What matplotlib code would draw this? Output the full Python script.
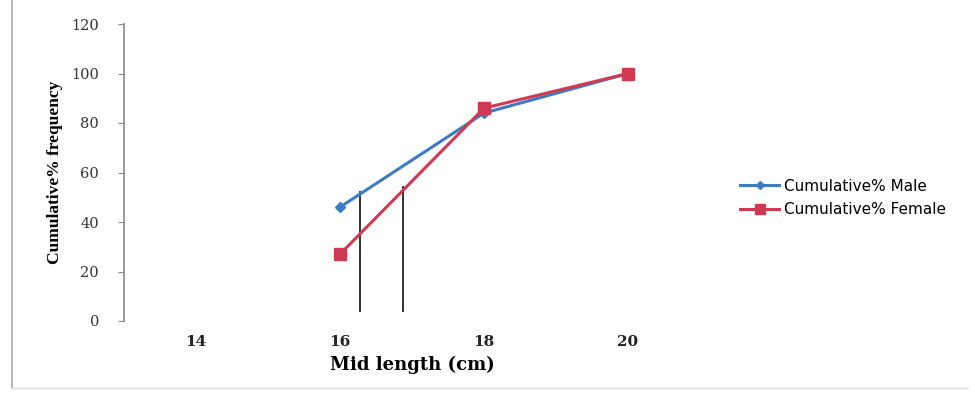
import matplotlib
matplotlib.use("Agg")
import matplotlib.pyplot as plt
from matplotlib.lines import Line2D

# Data
mid_length = [16, 18, 20]
cum_male = [46, 84, 100]
cum_female = [27, 86, 100]
x_ticks = [14, 16, 18, 20]
y_ticks = [0, 20, 40, 60, 80, 100, 120]
# reading lines (x position, top value)
ref_x = [16.28, 16.88]
ref_top = [52, 54]
ref_bottom = 4

blue = "#3D7CC2"
red = "#CF3A52"

fig = plt.figure(figsize=(9.75, 3.94), dpi=100)
ax = fig.add_axes([124/975, 1-321/394, (700-124)/975, (321-24)/394])

ax.plot(mid_length, cum_male, color=blue, lw=2.2, marker="D", ms=5,
        label="Cumulative% Male", zorder=3)
ax.plot(mid_length, cum_female, color=red, lw=2.2, marker="s", ms=8,
        label="Cumulative% Female", zorder=3)
for xv, top in zip(ref_x, ref_top):
    ax.plot([xv, xv], [ref_bottom, top], color="#333333", lw=1.4, zorder=2)

ax.set_xlim(13, 21)
ax.set_ylim(0, 120)
ax.set_yticks(y_ticks)
ax.set_yticklabels([str(v) for v in y_ticks], family="DejaVu Serif",
                   fontsize=10.5, color="#333333")
ax.set_xticks(x_ticks)
ax.set_xticklabels([str(v) for v in x_ticks], family="DejaVu Serif",
                   fontsize=11, fontweight="bold", color="#222222")
ax.tick_params(axis="x", length=0, pad=10)
ax.tick_params(axis="y", length=4, color="#888888", direction="out", pad=14)
for s in ["top", "right", "bottom"]:
    ax.spines[s].set_visible(False)
ax.spines["left"].set_color("#888888")
ax.spines["left"].set_linewidth(1.2)

ax.set_xlabel("Mid length (cm)", family="DejaVu Serif", fontsize=13,
              fontweight="bold", labelpad=5)
ax.set_ylabel("Cumulative% frequency", family="Liberation Serif",
              fontsize=12.5, fontweight="bold", labelpad=6)

handles = [Line2D([0], [0], color=blue, lw=2.2, marker="D", ms=4),
           Line2D([0], [0], color=red, lw=2.2, marker="s", ms=7)]
fig.legend(handles, ["Cumulative% Male", "Cumulative% Female"],
           loc="center left", bbox_to_anchor=(726/975, 1-198/394),
           frameon=False, handlelength=2.6, handletextpad=0.3,
           labelspacing=0.55, prop={"family": "DejaVu Sans", "size": 11})

# outer frame
fig.add_artist(Line2D([12/975, 12/975], [1-388/394, 1.0], color="#aaaaaa",
                      lw=1.2, transform=fig.transFigure))
fig.add_artist(Line2D([12/975, 968/975], [1-388/394, 1-388/394],
                      color="#dddddd", lw=1.0, transform=fig.transFigure))

fig.savefig("out.png", dpi=100)
